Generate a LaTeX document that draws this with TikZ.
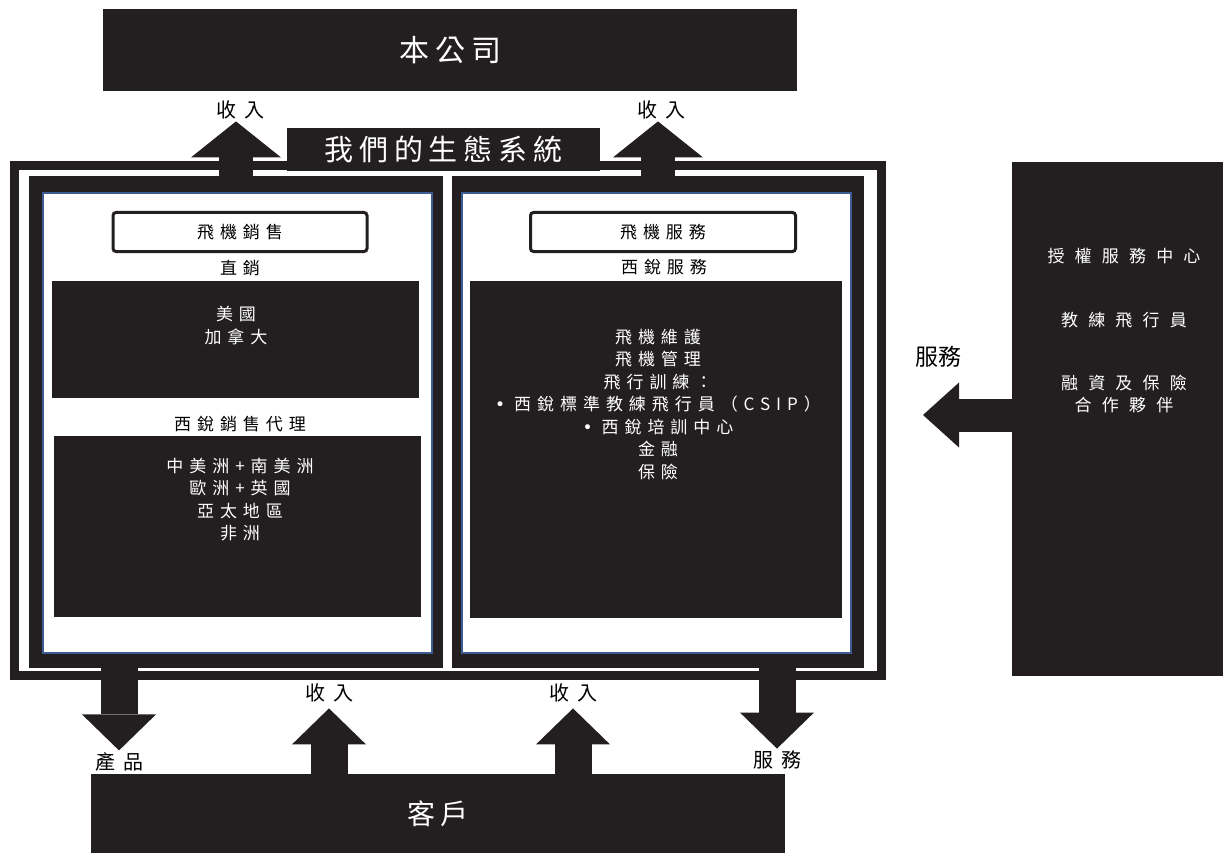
\documentclass[tikz,border=0pt]{standalone}
\usepackage{fontspec}
\usepackage{tikz}
\usetikzlibrary{arrows.meta,positioning}
\newfontfamily\cjk[LetterSpace=35]{Noto Sans CJK TC}
\newfontfamily\cjkwide[LetterSpace=60]{Noto Sans CJK TC}
\newfontfamily\cjklabel[LetterSpace=40]{Noto Sans CJK TC}
\newfontfamily\cjktitle[LetterSpace=20]{Noto Sans CJK TC}
\newfontfamily\cjkplain{Noto Sans CJK TC}
\newfontfamily\dotfont{DejaVu Sans}
\newcommand{\bul}{{\dotfont •}\hspace{9pt}}
\definecolor{inkblack}{HTML}{231F20}
\definecolor{panelblue}{HTML}{3E5C94}
\tikzstyle{darkbox} = [rectangle, inner sep=0pt, fill=inkblack, text=white, align=center]
\tikzstyle{headbox} = [rectangle, inner sep=0pt, rounded corners=3pt, draw=inkblack, line width=3pt, fill=white, font=\cjk\fontsize{17}{22}\selectfont]
\tikzstyle{panel} = [rectangle, inner sep=0pt, fill=inkblack]
\tikzstyle{panelin} = [rectangle, inner sep=0pt, fill=white, draw=panelblue, line width=2pt]
\tikzstyle{ecoframe} = [rectangle, inner sep=0pt, draw=inkblack, line width=9pt]
\tikzstyle{subhead} = [inner sep=0pt, font=\cjk\fontsize{17}{22}\selectfont]
\tikzstyle{boxtext} = [inner sep=0pt, text=white, align=center, font=\cjk\fontsize{17}{22.5}\selectfont]
\tikzstyle{partnertext} = [inner sep=0pt, text=white, align=center, font=\cjkwide\fontsize{17}{22}\selectfont]
\tikzstyle{flowtag} = [inner sep=2pt, font=\cjklabel\fontsize{20}{24}\selectfont]
\tikzset{bigarrow/.style={draw=inkblack, line width=35pt, -{Triangle[length=36pt,width=#1,line width=0pt]}}}

\begin{document}
\begin{tikzpicture}[x=1pt, y=-1pt]
	\useasboundingbox (0,0) rectangle (1223,853);
	%上下兩個方塊與右邊的夥伴
	\node (HQ) [darkbox, minimum width=694pt, minimum height=82pt, font=\cjktitle\fontsize{30}{36}\selectfont] at (450,50) {本公司};
	\node (CLI) [darkbox, minimum width=694pt, minimum height=79pt, font=\cjktitle\fontsize{28}{34}\selectfont] at (438,813.5) {客戶};
	\node (PTN) [darkbox, minimum width=211pt, minimum height=514pt] at (1117.5,419) {};
	\node (PTN1) [partnertext] at (1124,256) {授權服務中心};
	\node (PTN2) [partnertext] at (1124,320) {教練飛行員};
	\node (PTN3) [partnertext] at (1124,394) {融資及保險\\合作夥伴};
	%生態系統
	\node (ECO) [ecoframe, minimum width=867pt, minimum height=510pt] at (448,420.5) {};
	\node (SP) [panel, minimum width=414pt, minimum height=492pt] at (236,422) {};
	\node (SPin) [panelin, minimum width=389pt, minimum height=460pt] at (237.5,423) {};
	\node (VP) [panel, minimum width=412pt, minimum height=492pt] at (658,422) {};
	\node (VPin) [panelin, minimum width=389pt, minimum height=460pt] at (656.5,423) {};
	\node (SALE) [headbox, minimum width=254pt, minimum height=39pt] at (240,232) {飛機銷售};
	\node (DIRhead) [subhead] at (240,268) {直銷};
	\node (DIR) [darkbox, minimum width=367pt, minimum height=117pt] at (235.5,339.5) {};
	\node (DIRtxt) [boxtext] at (236,325.5) {美國\\加拿大};
	\node (AGThead) [subhead] at (240,424) {西銳銷售代理};
	\node (AGT) [darkbox, minimum width=367pt, minimum height=181pt] at (237.5,526.5) {};
	\node (AGTtxt) [boxtext] at (240,499.5) {中美洲+南美洲\\歐洲+英國\\亞太地區\\非洲};
	\node (SERV) [headbox, minimum width=265pt, minimum height=39pt] at (663,232) {飛機服務};
	\node (SVChead) [subhead] at (664,267) {西銳服務};
	\node (SVC) [darkbox, minimum width=372pt, minimum height=337pt] at (656,449.5) {};
	\node (SVCtxt) [boxtext] at (658,404.5) {飛機維護\\飛機管理\\飛行訓練：\\\bul 西銳標準教練飛行員（CSIP）\\\bul 西銳培訓中心\\金融\\保險};
	%收入與產品的箭頭
	\node (REV1) [flowtag] at (240,110) {收入};
	\node (REV2) [flowtag] at (661,110) {收入};
	\draw [bigarrow=90pt, line width=34pt] (SP.north) -- (SP.north |- REV1.south);
	\draw [bigarrow=90pt, line width=34pt] (VP.north) -- (VP.north |- REV2.south);
	\node (ECOtitle) [darkbox, minimum width=313pt, minimum height=43pt, font=\cjktitle\fontsize{29}{34}\selectfont] at (443.5,149.5) {我們的生態系統};
	\node (PRD) [flowtag] at (119,762) {產品};
	\node (REV3) [flowtag] at (329,693) {收入};
	\node (REV4) [flowtag] at (573,693) {收入};
	\node (SVCout) [flowtag] at (777,760) {服務};
	\draw [bigarrow=74pt, line width=37pt] (SP.south -| PRD) -- (PRD.north);
	\draw [bigarrow=74pt, line width=37pt, shorten >=4pt] (CLI.north -| REV3) -- (REV3.south);
	\draw [bigarrow=74pt, line width=37pt, shorten >=4pt] (CLI.north -| REV4) -- (REV4.south);
	\draw [bigarrow=74pt, line width=37pt] (VP.south -| SVCout) -- (SVCout.north);
	\node (SVCin) [inner sep=0pt, font=\cjkplain\fontsize{23}{26}\selectfont] at (938,357) {服務};
	\coordinate (SVCtip) at (923,415);
	\draw [bigarrow=65pt, line width=33pt] (SVCtip -| PTN.west) -- (SVCtip);
\end{tikzpicture}
\end{document}
